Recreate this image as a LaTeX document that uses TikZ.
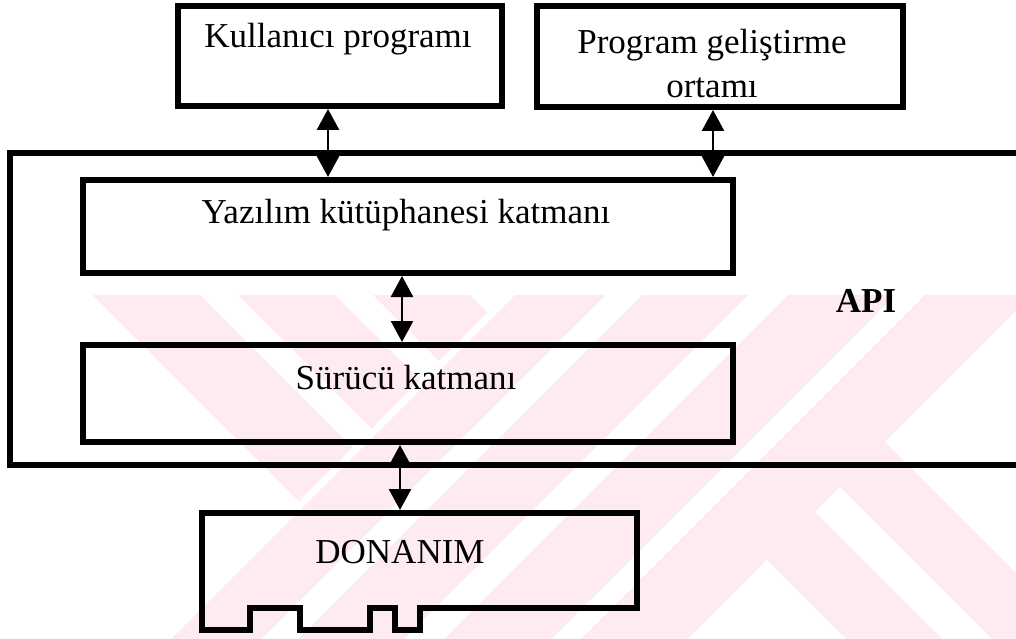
\documentclass[tikz,border=0pt]{standalone}
\usepackage{fontspec}
\setmainfont{Liberation Serif}
\usepackage{tikz}
\usetikzlibrary{arrows.meta}
\definecolor{markPink}{RGB}{253,235,239}

\begin{document}
\begin{tikzpicture}[x=1pt, y=-1pt,
  font=\fontsize{35}{44}\selectfont,
  layer/.style={draw, line width=6pt, inner sep=0pt},
  txt/.style={anchor=base, inner sep=0pt},
  link/.style={{Triangle[width=22pt,length=21pt]}-{Triangle[width=22pt,length=21pt]}, line width=2.7pt}]

  \newcommand{\upband}[2]{\fill[markPink] (#1-250,250) -- (#2-250,250) -- (#2-700,700) -- (#1-700,700) -- cycle;}
  \newcommand{\downband}[2]{\fill[markPink] (#1+250,250) -- (#2+250,250) -- (#2+700,700) -- (#1+700,700) -- cycle;}

  \useasboundingbox (0,0) rectangle (1016,639);
  \clip (0,0) rectangle (1016,639);
  \fill[white] (0,0) rectangle (1016,639);

  % stripes in the background
  \begin{scope}
    \clip (0,295) rectangle (1016,639);
    \upband{810}{900}
    \upband{937}{1043}
    \upband{1083}{1190}
    \upband{1220}{1326}
    \begin{scope}
      \clip (-1000,-1000) -- (1800,-1000) -- (-1000,1800) -- cycle;
      \downband{-202}{-95}
      \downband{-57}{40}
      \downband{78}{175}
    \end{scope}
    \begin{scope}
      \clip (2326,-1000) -- (3000,3000) -- (-1000,2326) -- cycle;
      \downband{207}{303}
      \downband{353}{443}
    \end{scope}
  \end{scope}

  % API frame, open to the right
  \draw[line width=6pt] (1030,153) -- (10,153) -- (10,465) -- (1030,465);
  \node[txt, font=\fontsize{35}{44}\selectfont\bfseries] (api) at (866,312) {API};

  \node[layer, minimum width=324pt, minimum height=100pt] (kullanici) at (340,56) {};
  \node[txt] (kullaniciT) at (338,48) {Kullanıcı programı};

  \node[layer, minimum width=366pt, minimum height=101pt] (program) at (720,56.5) {};
  \node[txt, align=center, anchor=north] (programT) at (712,29) {Program geliştirme\\ortamı};

  \node[layer, minimum width=650pt, minimum height=93pt] (yazilim) at (408,226.5) {};
  \node[txt] (yazilimT) at (406,223) {Yazılım kütüphanesi katmanı};

  \node[layer, minimum width=650pt, minimum height=97pt] (surucu) at (408,393.5) {};
  \node[txt] (surucuT) at (406,389) {Sürücü katmanı};

  \draw[line width=6pt] (202,513) -- (637,513) -- (637,608) -- (420,608) -- (420,630)
    -- (395,630) -- (395,608) -- (370,608) -- (370,630) -- (300,630) -- (300,608)
    -- (250,608) -- (250,630) -- (202,630) -- cycle;
  \coordinate (hw) at (400,510);
  \node[txt] (donanim) at (400,563) {DONANIM};

  \draw[link] ([xshift=-12pt]kullanici.south) -- ([xshift=-12pt]kullanici.south |- yazilim.north);
  \draw[link] ([xshift=-7pt]program.south) -- ([xshift=-7pt]program.south |- yazilim.north);
  \draw[link] ([xshift=-6pt]yazilim.south) -- ([xshift=-6pt]surucu.north);
  \draw[link] (surucu.south -| hw) -- (hw);

\end{tikzpicture}
\end{document}
